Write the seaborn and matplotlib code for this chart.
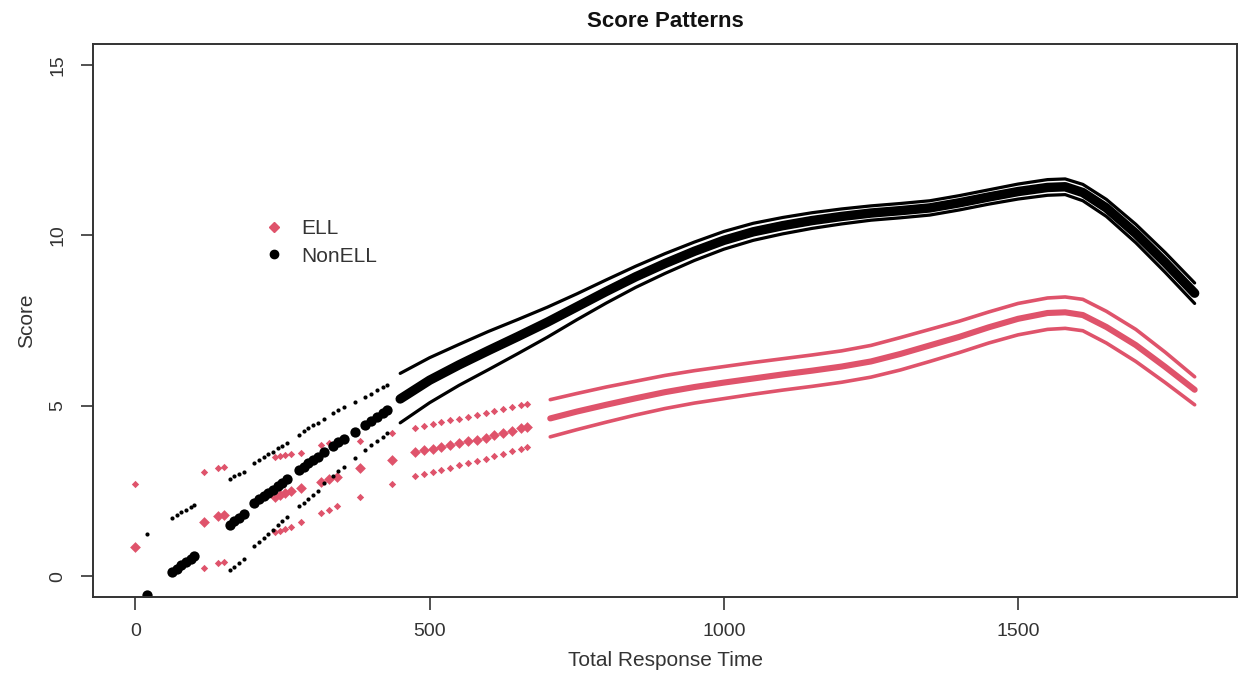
import matplotlib
matplotlib.use("Agg")
import matplotlib.pyplot as plt
import seaborn as sns
import pandas as pd
from matplotlib.lines import Line2D

# ---------------- data ----------------
# NonELL: sparse observed time points (fit, upper, lower)
black_x_pts = [20, 62, 70, 78, 86, 94, 100, 160, 168, 176, 184, 202, 210, 218, 226, 234, 242, 250, 258,
               278, 286, 294, 302, 310, 320, 335, 345, 355, 374, 390, 400, 410, 420, 428]
black_fit_pts = [-0.55, 0.12, 0.22, 0.32, 0.42, 0.52, 0.6, 1.52, 1.62, 1.72, 1.82, 2.16, 2.26, 2.35, 2.45, 2.54,
                 2.64, 2.74, 2.84, 3.13, 3.22, 3.31, 3.40, 3.50, 3.65, 3.82, 3.93, 4.04, 4.24, 4.44, 4.56, 4.67,
                 4.78, 4.88]
black_hi_pts = [1.23, 1.72, 1.8, 1.88, 1.96, 2.04, 2.1, 2.85, 2.93, 3.0, 3.07, 3.33, 3.42, 3.5, 3.58, 3.66,
                3.75, 3.83, 3.92, 4.15, 4.25, 4.34, 4.43, 4.5, 4.6, 4.78, 4.88, 4.97, 5.1, 5.25, 5.35, 5.45,
                5.55, 5.62]
black_lo_pts = [-2.9, -1.5, -1.35, -1.25, -1.1, -1.0, -0.9, 0.2, 0.28, 0.38, 0.5, 0.88, 1.0, 1.12, 1.25, 1.37,
                1.5, 1.62, 1.73, 2.05, 2.16, 2.27, 2.38, 2.49, 2.75, 2.95, 3.08, 3.2, 3.48, 3.71, 3.85, 3.98,
                4.1, 4.2]

# NonELL: dense part
black_x_line = [450, 500, 550, 600, 650, 700, 750, 800, 850, 900, 950, 1000, 1050, 1100, 1150, 1200, 1250,
                1300, 1350, 1400, 1450, 1500, 1550, 1580, 1610, 1650, 1700, 1750, 1800]
black_fit_line = [5.2, 5.75, 6.2, 6.62, 7.03, 7.45, 7.9, 8.35, 8.78, 9.17, 9.53, 9.85, 10.1, 10.28, 10.43,
                  10.55, 10.65, 10.72, 10.8, 10.95, 11.12, 11.28, 11.4, 11.42, 11.25, 10.8, 10.05, 9.2, 8.3]
black_hi_line = [5.95, 6.41, 6.8, 7.18, 7.53, 7.89, 8.28, 8.69, 9.09, 9.46, 9.8, 10.11, 10.35, 10.52, 10.66,
                 10.77, 10.86, 10.93, 11.01, 11.16, 11.33, 11.5, 11.63, 11.65, 11.49, 11.05, 10.32, 9.49, 8.6]
black_lo_line = [4.5, 5.09, 5.6, 6.06, 6.53, 7.01, 7.52, 8.01, 8.47, 8.88, 9.26, 9.59, 9.85, 10.04, 10.2,
                 10.33, 10.44, 10.51, 10.59, 10.74, 10.91, 11.06, 11.17, 11.19, 11.01, 10.55, 9.78, 8.91, 8.0]

# ELL: sparse observed time points
red_x_pts = [0, 117, 140, 150, 238, 246, 254, 264, 281, 315, 329, 343, 382, 436, 475, 490, 505, 520, 535,
             550, 565, 580, 595, 610, 625, 640, 655, 665]
red_fit_pts = [0.85, 1.6, 1.76, 1.81, 2.34, 2.39, 2.44, 2.5, 2.6, 2.78, 2.85, 2.92, 3.19, 3.42, 3.64, 3.69,
               3.74, 3.79, 3.85, 3.9, 3.96, 4.01, 4.07, 4.13, 4.2, 4.27, 4.34, 4.39]
red_hi_pts = [2.7, 3.07, 3.19, 3.22, 3.5, 3.53, 3.56, 3.6, 3.62, 3.85, 3.9, 3.95, 3.97, 4.2, 4.36, 4.41,
              4.47, 4.52, 4.57, 4.62, 4.67, 4.72, 4.78, 4.84, 4.9, 4.96, 5.02, 5.06]
red_lo_pts = [-1.0, 0.26, 0.38, 0.43, 1.29, 1.34, 1.40, 1.46, 1.6, 1.87, 1.96, 2.05, 2.34, 2.7, 2.93, 2.99,
              3.06, 3.13, 3.19, 3.26, 3.33, 3.39, 3.45, 3.52, 3.6, 3.67, 3.74, 3.78]

# ELL: dense part
red_x_line = [705, 750, 800, 850, 900, 950, 1000, 1050, 1100, 1150, 1200, 1250, 1300, 1350, 1400, 1450,
              1500, 1550, 1580, 1610, 1650, 1700, 1750, 1800]
red_fit_line = [4.63, 4.83, 5.03, 5.22, 5.4, 5.55, 5.68, 5.8, 5.92, 6.03, 6.15, 6.3, 6.52, 6.77, 7.02, 7.3,
                7.55, 7.72, 7.74, 7.66, 7.31, 6.78, 6.14, 5.47]
red_hi_line = [5.18, 5.36, 5.55, 5.72, 5.89, 6.03, 6.15, 6.27, 6.38, 6.49, 6.61, 6.77, 7.0, 7.24, 7.48, 7.75,
               8.0, 8.16, 8.19, 8.12, 7.77, 7.24, 6.57, 5.85]
red_lo_line = [4.09, 4.3, 4.52, 4.73, 4.92, 5.08, 5.21, 5.34, 5.46, 5.57, 5.69, 5.84, 6.05, 6.3, 6.56, 6.84,
               7.08, 7.24, 7.27, 7.2, 6.84, 6.3, 5.68, 5.03]

x_ticks = [0, 500, 1000, 1500]
y_ticks = [0, 5, 10, 15]
legend_labels = ["ELL", "NonELL"]

RED = "#DF536B"
BLACK = "#000000"

# ---------------- plot ----------------
sns.set_theme(style="ticks")
plt.rcParams["font.family"] = ["Liberation Sans", "DejaVu Sans"]

fig = plt.figure(figsize=(12.4, 6.9), dpi=100)
ax = fig.add_axes([0.075, 0.135, 0.9226, 0.801])

# dense lines
for xs, ys, col, lw in [
    (red_x_line, red_hi_line, RED, 2.6), (red_x_line, red_lo_line, RED, 2.6), (red_x_line, red_fit_line, RED, 4.4),
    (black_x_line, black_hi_line, BLACK, 2.3), (black_x_line, black_lo_line, BLACK, 2.3),
    (black_x_line, black_fit_line, BLACK, 6.8),
]:
    sns.lineplot(x=xs, y=ys, ax=ax, color=col, lw=lw, sort=False, estimator=None,
                 solid_capstyle="round", legend=False)

# sparse points
for xs, ys, col, s, mk in [
    (red_x_pts, red_hi_pts, RED, 14, "D"), (red_x_pts, red_lo_pts, RED, 14, "D"),
    (red_x_pts, red_fit_pts, RED, 30, "D"),
    (black_x_pts, black_hi_pts, BLACK, 9, "o"), (black_x_pts, black_lo_pts, BLACK, 9, "o"),
    (black_x_pts, black_fit_pts, BLACK, 55, "o"),
]:
    sns.scatterplot(x=xs, y=ys, ax=ax, color=col, s=s, marker=mk, linewidth=0, legend=False)

ax.set_xlim(-72, 1872)
ax.set_ylim(-0.6, 15.6)
ax.set_xticks(x_ticks)
ax.set_yticks(y_ticks)
ax.set_xticklabels([str(v) for v in x_ticks], fontsize=14, color="#333333")
ax.set_yticklabels([str(v) for v in y_ticks], fontsize=14, color="#333333", rotation=90, va="center")
ax.tick_params(axis="both", direction="out", length=9, width=1.2, color="#333333", pad=10)
for sp in ax.spines.values():
    sp.set_visible(True)
    sp.set_color("#333333")
    sp.set_linewidth(1.4)

ax.set_xlabel("Total Response Time", fontsize=15, color="#333333", labelpad=8)
ax.set_ylabel("Score", fontsize=15, color="#333333", labelpad=10)
ax.set_title("Score Patterns", fontsize=16, fontweight="bold", color="#111111", pad=12)

handles = [
    Line2D([0], [0], marker="D", color="none", markerfacecolor=RED, markeredgecolor=RED, markersize=5),
    Line2D([0], [0], marker="o", color="none", markerfacecolor=BLACK, markeredgecolor=BLACK, markersize=6),
]
ax.legend(handles, legend_labels, loc="upper left", bbox_to_anchor=(0.124, 0.717), frameon=False,
          fontsize=15, handletextpad=0.3, labelspacing=0.4, labelcolor="#333333")

fig.savefig("out.png", dpi=100, facecolor="white")
